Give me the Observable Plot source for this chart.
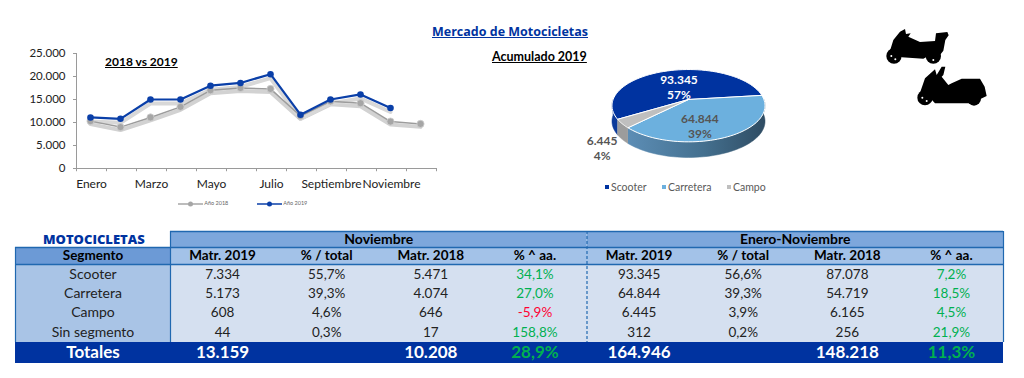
<!DOCTYPE html>
<html><head><meta charset="utf-8">
<script src="https://cdn.jsdelivr.net/npm/d3@7"></script>
<script src="https://cdn.jsdelivr.net/npm/@observablehq/plot@0.6"></script>
<style>
html,body{margin:0;padding:0;background:#fff;overflow:hidden}
#page{position:relative;width:1024px;height:378px;font-family:Lato,sans-serif}
#page>*{position:absolute}
svg{overflow:visible}
.t{font-weight:700;white-space:nowrap;text-decoration:underline}
.lg{font-size:10.5px;color:#595959;white-space:nowrap}
.lg i{display:inline-block;width:4px;height:4px;margin-right:2px;vertical-align:2px}
.ly{font-size:5.5px;color:#666;white-space:nowrap}
</style></head><body><div id="page"></div>
<script>
// ---- data ----
const months = ["Enero","Febrero","Marzo","Abril","Mayo","Junio","Julio","Agosto","Septiembre","Octubre","Noviembre","Diciembre"];
const monthLabels = ["Enero","Marzo","Mayo","Julio","Septiembre","Noviembre"];
const y2018 = [10300,9000,11100,13400,17000,17500,17300,11400,14600,14200,10208,9700];
const y2019 = [11100,10800,15000,15000,18000,18600,20500,11700,15000,16100,13159];
const yTicks = [0,5000,10000,15000,20000,25000];

const pieNames = ["Scooter","Carretera","Campo"];
const pieValues = [93345,64844,6445];
const pieValueLabels = ["93.345","64.844","6.445"];
const piePctLabels = ["57%","39%","4%"];
const pieColors = ["#0033a0","#6cb0de","#bfbfbf"];

const segments = ["Scooter","Carretera","Campo","Sin segmento"];
const colHeads = ["Matr. 2019","% / total","Matr. 2018","% ^ aa.","Matr. 2019","% / total","Matr. 2018","% ^ aa."];
const rowsTable = [
 ["7.334","55,7%","5.471","34,1%","93.345","56,6%","87.078","7,2%"],
 ["5.173","39,3%","4.074","27,0%","64.844","39,3%","54.719","18,5%"],
 ["608","4,6%","646","-5,9%","6.445","3,9%","6.165","4,5%"],
 ["44","0,3%","17","158,8%","312","0,2%","256","21,9%"]];
const totals = ["13.159","","10.208","28,9%","164.946","","148.218","11,3%"];

const page = document.getElementById("page");
function place(el,left,top){el.style.left=left+"px";el.style.top=top+"px";page.appendChild(el);return el;}
function html(cls,style,txt,left,top){const d=document.createElement("div");d.className=cls;d.style.cssText=style;d.innerHTML=txt;return place(d,left,top);}
const es = d3.format(",");
const fmtEs = v => es(v).replace(/,/g,".");

// ---- titles ----
html("t","font-size:12.5px;color:#0033a0;font-family:'Open Sans'","Mercado de Motocicletas",432,23);
html("t","font-size:12.5px;color:#000","Acumulado 2019",492,49);
html("t","font-size:12px;color:#000","2018 vs 2019",105,54);

// ---- line chart: x is the month slot, each month centred in its slot ----
const ser18 = y2018.map((v,i)=>({m:i+.5,v}));
const ser19 = y2019.map((v,i)=>({m:i+.5,v}));
const labelTicks = monthLabels.map(l=>months.indexOf(l)+.5);
const axisC="#9a9a9a";
const lineChart = Plot.plot({
  width:450,height:190,marginLeft:76,marginRight:14,marginTop:53,marginBottom:22,
  style:{fontFamily:"Lato",fontSize:"12px",color:"#222",background:"transparent"},
  x:{domain:[0,12],label:null},
  y:{domain:[0,25000],label:null},
  marks:[
    Plot.axisY({ticks:yTicks,tickFormat:fmtEs,tickSize:3,label:null,stroke:axisC,tickPadding:8,fontSize:11.5,color:"#222"}),
    Plot.ruleX([0],{y1:0,y2:25000,stroke:axisC}),
    Plot.ruleY([0],{stroke:axisC}),
    Plot.ruleX(d3.range(13),{y1:0,y2:-700,stroke:axisC}),
    Plot.line(ser18,{x:"m",y:"v",dx:-1,stroke:"#d2d2d2",strokeWidth:4,dy:3}),
    Plot.line(ser19,{x:"m",y:"v",dx:-1,stroke:"#d8d8d8",strokeWidth:4,dy:4}),
    Plot.line(ser18,{x:"m",y:"v",dx:-1,stroke:"#9c9c9c",strokeWidth:1.5}),
    Plot.dot(ser18,{x:"m",y:"v",dx:-1,r:3.6,fill:"#a6a6a6",stroke:"#cfcfcf",strokeWidth:.8}),
    Plot.line(ser19,{x:"m",y:"v",dx:-1,stroke:"#0a3fa8",strokeWidth:2.2}),
    Plot.dot(ser19,{x:"m",y:"v",dx:-1,r:3.3,fill:"#0a3fa8"}),
    Plot.axisX({ticks:labelTicks,tickFormat:d=>months[d-.5],tickSize:0,tickPadding:11,label:null,fontSize:12,color:"#222",lineAnchor:"top"})
  ]
});
place(lineChart,0,0);

// ---- chart legend ----
const legLine = (c,r)=>`<svg width="25" height="8" style="vertical-align:middle"><line x1="0" x2="25" y1="4" y2="4" stroke="${c}" stroke-width="1.5"/><circle cx="12.5" cy="4" r="${r}" fill="${c}"/></svg>`;
html("ly","",legLine("#a6a6a6",2.5)+" Año 2018",178,200);
html("ly","",legLine("#0a3fa8",2.5)+" Año 2019",257,200);

// ---- pie ----
const rx=75.4, ry=35.1, persp=.171, depth=.445;
const project = a => { const w=1-persp*Math.sin(a); return [Math.cos(a)/w, Math.sin(a)/w]; };
const deg=Math.PI/180;
const slices = d3.pie().sort(null).startAngle(149*deg).endAngle((149+360)*deg)(pieValues);
const topPolys=[], wallPolys=[];
const arcSteps = (a0,a1)=>d3.range(0,61).map(i=>a0+(a1-a0)*i/60);
slices.forEach((s,k)=>{
  const arc=arcSteps(s.startAngle,s.endAngle);
  const poly=[[0,0],...arc.map(project),[0,0]];
  poly.forEach(p=>topPolys.push({k,x:p[0],y:p[1]}));
  const clip=[];
  arc.forEach(a=>{const n=((a%(2*Math.PI))+2*Math.PI)%(2*Math.PI); if(n<=Math.PI) clip.push(a);});
  if(clip.length){
    const up=clip.map(project), dn=clip.slice().reverse().map(project).map(p=>[p[0],p[1]+depth]);
    [...up,...dn].forEach(p=>wallPolys.push({k,x:p[0],y:p[1]}));
  }
});
const labelRadius=[.389,.775,1.785], labelTurn=[0,14.8,-12];
const pieLabels=slices.map((s,k)=>{
  const a=(s.startAngle+s.endAngle)/2+labelTurn[k]*deg;
  return {k,x:labelRadius[k]*Math.cos(a),y:labelRadius[k]*Math.sin(a),txt:pieValueLabels[k]+"\n"+piePctLabels[k]};
});
const wallFill=["#0b3a9a","url(#wallG)","#9c9c9c"];
const defsMark=()=>{const s=d3.create("svg:g");
  const g=s.append("defs").append("linearGradient").attr("id","wallG");
  [["0","#5c8db5"],["0.55","#44708f"],["1","#2f4c63"]].forEach(([o,c])=>g.append("stop").attr("offset",o).attr("stop-color",c));
  return s.node();};
const pieChart=Plot.plot({
  width:240,height:125,margin:0,
  style:{fontFamily:"Lato",background:"transparent",overflow:"visible"},
  x:{domain:[-1,1],range:[120-rx,120+rx],axis:null},
  y:{domain:[-1,1],range:[65-ry,65+ry],axis:null},
  marks:[
    defsMark,
    ...[0,1,2].map(k=>Plot.line(wallPolys.filter(d=>d.k===k),{x:"x",y:"y",fill:wallFill[k],stroke:wallFill[k],strokeWidth:.5,curve:"linear"})),
    ...[0,1,2].map(k=>Plot.line(topPolys.filter(d=>d.k===k),{x:"x",y:"y",fill:pieColors[k],stroke:"#fff",strokeWidth:1,curve:"linear"})),
    Plot.text(pieLabels,{x:"x",y:"y",text:"txt",fontSize:12,fontWeight:700,lineHeight:1.25,fill:d=>d.k===0?"#fff":"#555"})
  ]
});
place(pieChart,688-120,99-65);

// ---- pie legend ----
[605,662,727].forEach((x,i)=>html("lg","",`<i style="background:${pieColors[i]}"></i>${pieNames[i]}`,x,181));

// ---- bike icons ----
const bikes=document.createElementNS("http://www.w3.org/2000/svg","svg");
bikes.setAttribute("width","110");bikes.setAttribute("height","95");
bikes.setAttribute("viewBox","0 0 330 285");
bikes.innerHTML=`<g fill="#000">
<circle cx="42" cy="108" r="23"/><circle cx="160" cy="108" r="23"/>
<path d="M30 92 L40 60 L60 35 L75 27 L78 42 L92 40 L85 50 L120 66 L165 63 L168 40 L202 36 L206 46 L196 60 L190 92 L180 105 L160 100 L130 116 L65 112 L50 100Z"/>
<circle cx="135" cy="233" r="23"/><circle cx="282" cy="236" r="21"/>
<path d="M120 218 L135 175 L165 148 L170 165 L185 140 L196 140 L190 165 L185 170 L205 195 L215 190 L245 176 L300 176 L314 200 L320 228 L295 240 L270 250 L165 250 L145 228Z"/></g>
<g fill="#fff"><circle cx="34" cy="108" r="3"/><circle cx="46" cy="118" r="3"/><circle cx="160" cy="120" r="3"/><circle cx="127" cy="233" r="3"/><circle cx="140" cy="243" r="3"/></g>`;
place(bikes,880,20);

// ---- table ----
const rowEdges=[231,247,264,283.5,303,322,342,363];
const colEdges=[15,170,1003];
const cells=[], labels=[];
const hdr="#7da7dc", sub="#a3c2e8", segBg="#a9c4e6", body="#d5e0f0", tot="#0033a0";
cells.push({x1:1,x2:5,r:0,fill:hdr},{x1:5,x2:9,r:0,fill:hdr});
cells.push({x1:0,x2:1,r:1,fill:"#6c9ad6"},{x1:1,x2:9,r:1,fill:sub});
cells.push({x1:0,x2:1,r:2,r2:6,fill:segBg},{x1:1,x2:9,r:2,r2:6,fill:body});
cells.push({x1:0,x2:9,r:6,fill:tot});
const pctColor=s=>s.startsWith("-")?"#ff0033":"#00b050";
labels.push({x:3,r:0,t:"Noviembre",size:14,w:700,c:"#000"},{x:7,r:0,t:"Enero-Noviembre",size:14,w:700,c:"#000"});
labels.push({x:.5,r:1,t:"Segmento",size:13.5,w:700,c:"#000"});
colHeads.forEach((t,i)=>labels.push({x:i+1.5,r:1,t,size:13.5,w:700,c:"#000"}));
segments.forEach((t,j)=>{
  labels.push({x:.5,r:j+2,t,size:14,w:400,c:"#222"});
  rowsTable[j].forEach((t2,i)=>labels.push({x:i+1.5,r:j+2,t:t2,size:13.5,w:400,c:i%4===3?pctColor(t2):"#222"}));
});
labels.push({x:.5,r:6,t:"Totales",size:17,w:700,c:"#fff"});
totals.forEach((t,i)=>{if(t)labels.push({x:i+1.5,r:6,t,size:17,w:700,c:i%4===3?"#00b050":"#fff"})});
const table=Plot.plot({
  width:1024,height:378,margin:0,
  style:{fontFamily:"Lato",background:"transparent"},
  x:{type:"linear",domain:[0,1,9],range:colEdges,axis:null},
  y:{type:"linear",domain:d3.range(8),range:rowEdges,axis:null},
  marks:[
    Plot.rect(cells,{x1:"x1",x2:"x2",y1:"r",y2:d=>d.r2??d.r+1,fill:"fill"}),
    Plot.ruleY([0],{x1:1,x2:9,stroke:"#2068b0",strokeWidth:1.5}),
    Plot.ruleY([1,2],{x1:0,x2:9,stroke:"#2068b0",strokeWidth:1.5}),
    Plot.ruleX([0,1],{y1:1,y2:6,stroke:"#2068b0",strokeWidth:1.2}),
    Plot.ruleX([9],{y1:0,y2:6,stroke:"#2068b0",strokeWidth:1.2}),
    Plot.ruleX([1],{y1:0,y2:1,stroke:"#2068b0",strokeWidth:1.2}),
    Plot.ruleX([5],{y1:0,y2:6,stroke:"#2068b0",strokeWidth:1.2,strokeDasharray:"3 2"}),
    ...[700,400].flatMap(w=>[13.5,14,17].map(size=>Plot.text(labels.filter(d=>d.w===w&&d.size===size),{x:"x",y:d=>d.r+.5,text:"t",fill:"c",fontSize:size,fontWeight:w})))
  ]
});
place(table,0,0);
html("","font-size:13px;font-weight:800;color:#0033a0;white-space:nowrap;font-family:'Open Sans'","MOTOCICLETAS",43,230);
</script></body></html>
